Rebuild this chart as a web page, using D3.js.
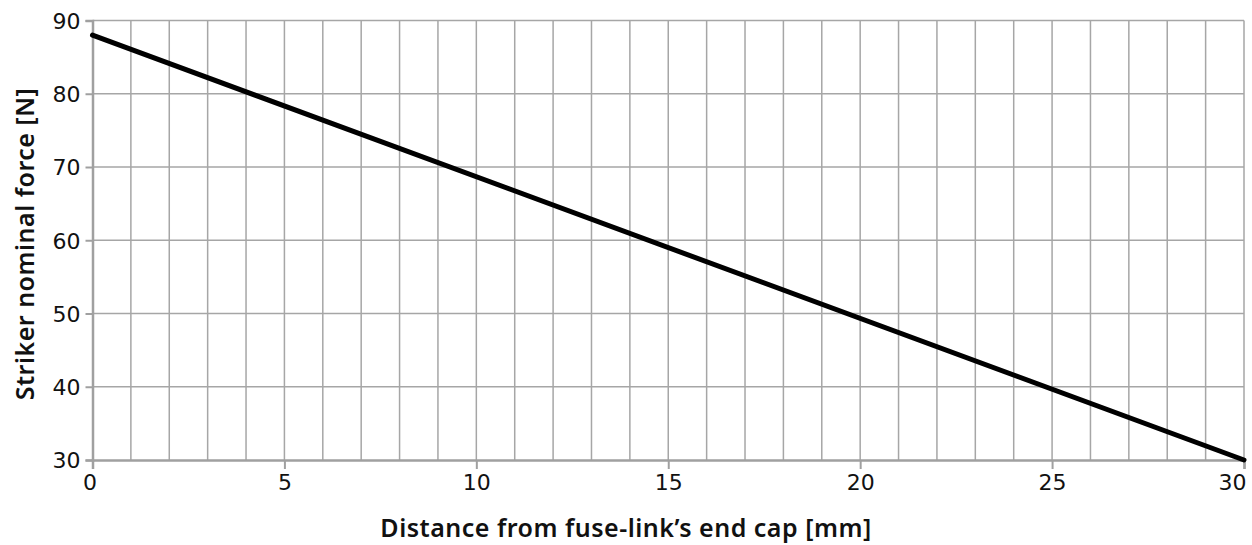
<!DOCTYPE html>
<html>
<head>
<meta charset="utf-8">
<script src="https://cdn.jsdelivr.net/npm/d3@7"></script>
<style>
  body { margin: 0; background: #fff; }
  svg { display: block; }
</style>
</head>
<body>
<div id="chart"></div>
<script>
// distance from end cap [mm] vs striker nominal force [N]
const distance = [0, 30];
const force = [88, 30];
const xTicks = [0, 5, 10, 15, 20, 25, 30];
const yTicks = [30, 40, 50, 60, 70, 80, 90];

const width = 1252,
  height = 545,
  margin = { top: 20.5, right: 8, bottom: 85, left: 92.5 };

const svg = d3.select("#chart").append("svg").attr("width", width).attr("height", height);

const x = d3.scaleLinear().domain([0, 30]).range([margin.left, width - margin.right]);
const y = d3.scaleLinear().domain([30, 90]).range([height - margin.bottom, margin.top]);

const grid = svg.append("g").style("stroke", "#a6a6a6").style("stroke-width", "1.5px");

// vertical grid every 1 mm
grid
  .selectAll("line.v")
  .data(d3.range(1, 31))
  .enter()
  .append("line")
  .attr("x1", (d) => x(d))
  .attr("x2", (d) => x(d))
  .attr("y1", y(90))
  .attr("y2", y(30));

grid
  .selectAll("line.h")
  .data(yTicks.slice(1))
  .enter()
  .append("line")
  .attr("x1", x(0))
  .attr("x2", x(30))
  .attr("y1", (d) => y(d))
  .attr("y2", (d) => y(d));

// axes
const xAxis = svg
  .append("g")
  .attr("transform", `translate(0,${y(30)})`)
  .call(d3.axisBottom(x).tickValues(xTicks).tickSize(9).tickPadding(5));
const yAxis = svg
  .append("g")
  .attr("transform", `translate(${x(0)},0)`)
  .call(d3.axisLeft(y).tickValues(yTicks).tickSize(7).tickPadding(5));

[xAxis, yAxis].forEach((a) => {
  a.select(".domain").style("stroke", "#a0a0a0").style("stroke-width", "2.5px");
  a.selectAll(".tick line").style("stroke", "#a0a0a0").style("stroke-width", "2px");
  a.selectAll("text")
    .style("font-family", "DejaVu Sans, sans-serif")
    .style("font-size", "22px")
    .style("fill", "#111");
});
yAxis.selectAll("text").attr("dy", "0.36em");
// last x label sits flush with the right edge
xAxis
  .selectAll(".tick text")
  .filter((d) => d === 30)
  .attr("text-anchor", "end")
  .attr("x", 2);
xAxis
  .selectAll(".tick text")
  .filter((d) => d === 0)
  .attr("x", -3);

// the curve
const line = d3
  .line()
  .x((d) => x(d[0]))
  .y((d) => y(d[1]));
svg
  .append("path")
  .datum(d3.zip(distance, force))
  .attr("d", line)
  .style("fill", "none")
  .style("stroke", "#000")
  .style("stroke-width", "5px")
  .style("stroke-linecap", "round");

// titles
svg
  .append("text")
  .attr("x", 626)
  .attr("y", 537)
  .attr("text-anchor", "middle")
  .style("font-family", "Noto Sans, sans-serif")
  .style("font-weight", "600")
  .style("font-size", "25px")
  .style("letter-spacing", "0.5px")
  .style("fill", "#111")
  .text("Distance from fuse-link’s end cap [mm]");

svg
  .append("text")
  .attr("transform", `translate(34,244) rotate(-90)`)
  .attr("text-anchor", "middle")
  .style("font-family", "Noto Sans, sans-serif")
  .style("font-weight", "600")
  .style("font-size", "25px")
  .style("letter-spacing", "0.5px")
  .style("fill", "#111")
  .text("Striker nominal force [N]");
</script>
</body>
</html>
